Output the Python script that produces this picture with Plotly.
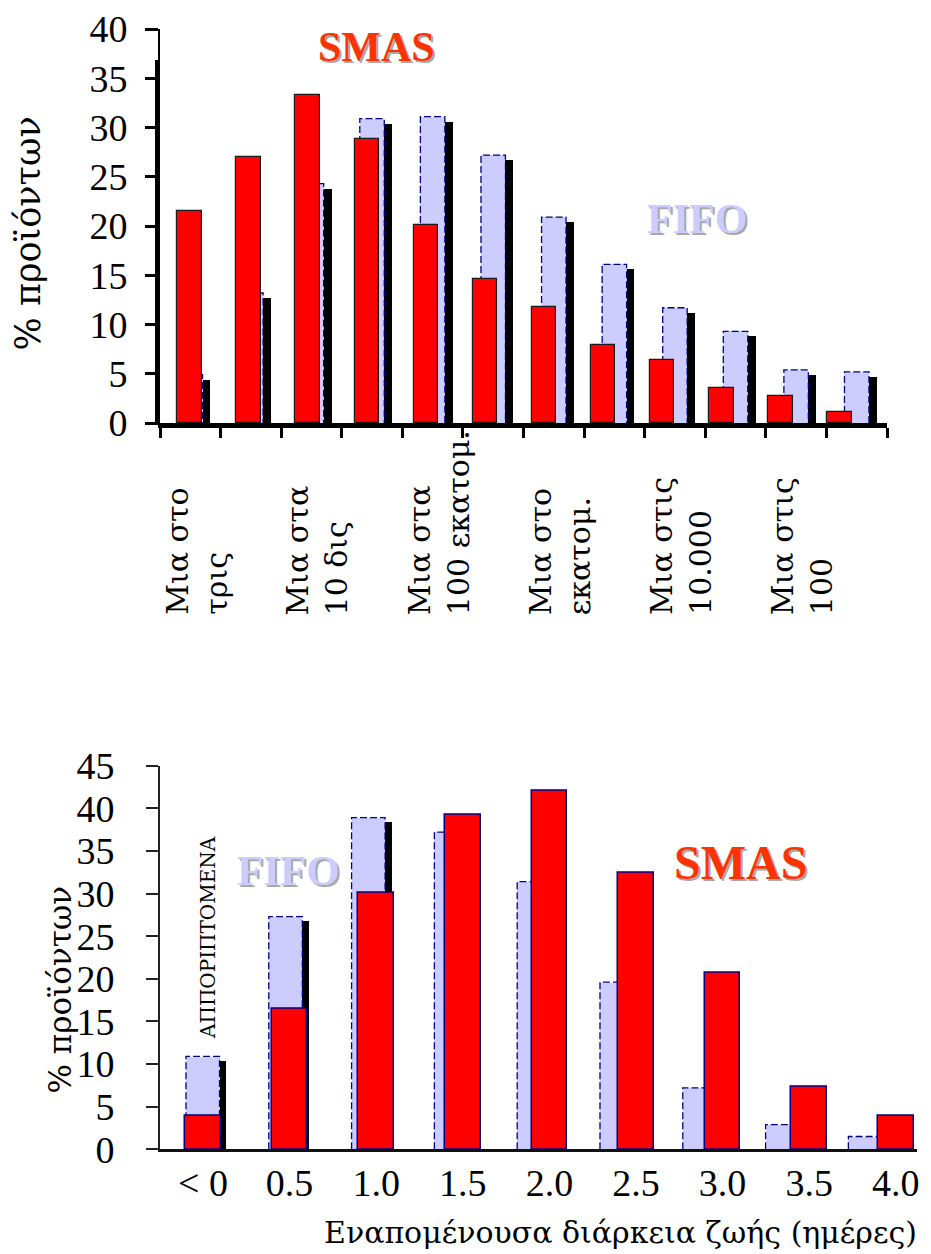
import plotly.graph_objects as go

# ---------------- data ----------------
top_labels = ["Μια στο<br>τρις", "Μια στα<br>10 δις", "Μια στα<br>100 εκατομ.",
              "Μια στο<br>εκατομ.", "Μια στις<br>10.000", "Μια στις<br>100"]
top_fifo = [4.9, 13.2, 24.3, 30.9, 31.1, 27.2, 20.9, 16.1, 11.7, 9.3, 5.4, 5.2]
top_smas = [21.5, 27.0, 33.3, 28.8, 20.1, 14.6, 11.8, 7.9, 6.4, 3.6, 2.7, 1.1]

bottom_categories = ["< 0", "0.5", "1.0", "1.5", "2.0", "2.5", "3.0", "3.5", "4.0"]
bottom_fifo = [10.9, 27.3, 38.9, 37.2, 31.4, 19.6, 7.2, 2.9, 1.5]
bottom_smas = [4.0, 16.5, 30.1, 39.3, 42.1, 32.5, 20.7, 7.4, 4.0]

y_title = "% προϊόντων"
x_title_bottom = "Εναπομένουσα διάρκεια ζωής (ημέρες)"
discard_label = "ΑΠΠΟΡΙΠΤΟΜΕΝΑ"

# ---------------- styling / geometry ----------------
PAGE_W, PAGE_H = 931, 1254
OFF = 8                      # default body margin of the html page
W, H = PAGE_W - OFF, PAGE_H - OFF
SERIF = "Liberation Serif, Times New Roman, serif"
GREEK = "DejaVu Serif, serif"
LAV = "#CCCCFF"
NAVY = "#000080"
RED = "#FF0000"
SMAS_TXT = "#FF3300"


def fx(px):
    return (px - OFF) / W


def fy(py):
    return 1 - (py - OFF) / H


fig = go.Figure()


def outline(vals, width):
    xs, ys = [], []
    for i, v in enumerate(vals):
        l, r = i - width / 2, i + width / 2
        xs += [l, l, r, r, None]
        ys += [0, v, v, 0, None]
    return xs, ys


# ---------- top chart ----------
n_top = len(top_fifo)
idx_top = list(range(n_top))
w_fifo_t = 0.404
fig.add_bar(x=idx_top, y=[v - 0.5 for v in top_fifo], width=w_fifo_t, offset=-w_fifo_t / 2 + 0.13,
            marker=dict(color="black", line=dict(width=0)), xaxis="x", yaxis="y", hoverinfo="skip")
fig.add_bar(x=idx_top, y=top_fifo, width=w_fifo_t, offset=-w_fifo_t / 2,
            marker=dict(color=LAV, line=dict(width=0)), xaxis="x", yaxis="y", name="FIFO")
ox, oy = outline(top_fifo, w_fifo_t)
fig.add_scatter(x=ox, y=oy, mode="lines", line=dict(color=NAVY, width=1.3, dash="7px,3px"),
                xaxis="x", yaxis="y", hoverinfo="skip")
w_smas_t = 0.415
fig.add_bar(x=idx_top, y=top_smas, width=w_smas_t, offset=-w_smas_t / 2,
            marker=dict(color=RED, line=dict(color="#1a1a1a", width=1.2)),
            xaxis="x2", yaxis="y2", name="SMAS")

# ---------- bottom chart ----------
n_bot = len(bottom_fifo)
idx_bot = list(range(n_bot))
w_fifo_b = 0.405
fig.add_bar(x=idx_bot, y=[v - 0.47 for v in bottom_fifo], width=w_fifo_b, offset=-w_fifo_b / 2 + 0.08,
            marker=dict(color="black", line=dict(width=0)), xaxis="x3", yaxis="y3", hoverinfo="skip")
fig.add_bar(x=idx_bot, y=bottom_fifo, width=w_fifo_b, offset=-w_fifo_b / 2,
            marker=dict(color=LAV, line=dict(width=0)), xaxis="x3", yaxis="y3", name="FIFO")
ox, oy = outline(bottom_fifo, w_fifo_b)
fig.add_scatter(x=ox, y=oy, mode="lines", line=dict(color=NAVY, width=1.3, dash="7px,3px"),
                xaxis="x3", yaxis="y3", hoverinfo="skip")
w_smas_b = 0.41
fig.add_bar(x=idx_bot, y=bottom_smas, width=w_smas_b, offset=-w_smas_b / 2,
            marker=dict(color=RED, line=dict(color=NAVY, width=1.5)),
            xaxis="x4", yaxis="y4", name="SMAS")

# ---------- axes ----------
tickfont = dict(family=SERIF, size=38, color="black")
common = dict(showgrid=False, zeroline=False, automargin=False, fixedrange=True)

t_x0, t_x1 = 160, 887
t_zero, t_top = 423, 29
t_top2 = 60
t_unit = (t_zero - t_top) / 40.0

b_x0, b_x1 = 160, 917
b_zero, b_top = 1149.3, 765.7
b_top2 = 800.7

fig.update_layout(
    xaxis=dict(domain=[fx(t_x0), fx(t_x1)], range=[-0.5, n_top - 0.5], anchor="y",
               showline=True, linewidth=5, linecolor="black",
               ticks="outside", ticklen=10, tickwidth=3, tickcolor="black",
               tickmode="linear", tick0=-0.5, dtick=1, showticklabels=False, **common),
    yaxis=dict(domain=[fy(t_zero), fy(t_top)], range=[0, 40], anchor="x",
               showline=True, linewidth=2, linecolor="black",
               ticks="outside", ticklen=13, tickwidth=3, tickcolor="black",
               tickmode="linear", tick0=0, dtick=5, tickfont=tickfont, ticklabelstandoff=10, **common),
    xaxis2=dict(domain=[fx(t_x0), fx(t_x1)],
                range=[-(189.5 - t_x0) / 59.09, (t_x1 - 189.5) / 59.09],
                anchor="y2", visible=False, **common),
    yaxis2=dict(domain=[fy(t_zero), fy(t_top2)], range=[0, (t_zero - t_top2) / t_unit], anchor="x2",
                showline=True, linewidth=5, linecolor="black", ticks="", showticklabels=False, **common),
    xaxis3=dict(domain=[fx(b_x0), fx(b_x1)],
                range=[-(202.75 - b_x0) / 82.8, (b_x1 - 202.75) / 82.8], anchor="y3",
                showline=True, linewidth=3, linecolor="#111111", ticks="", showticklabels=False, **common),
    yaxis3=dict(domain=[fy(b_zero), fy(b_top)], range=[0, 45], anchor="x3",
                showline=True, linewidth=2, linecolor="#222222",
                ticks="outside", ticklen=12, tickwidth=2, tickcolor="#222222",
                tickmode="linear", tick0=0, dtick=5, tickfont=tickfont, ticklabelstandoff=24, **common),
    xaxis4=dict(domain=[fx(b_x0), fx(b_x1)],
                range=[-(203 - b_x0) / 86.6, (b_x1 - 203) / 86.6], anchor="y4",
                showline=False, ticks="", tickmode="array", tickvals=idx_bot, ticktext=bottom_categories,
                tickfont=tickfont, ticklabelstandoff=8, **common),
    yaxis4=dict(domain=[fy(b_zero), fy(b_top)], range=[0, 45], anchor="x4",
                visible=False, **common),
    xaxis5=dict(domain=[fx(b_x0 + 3.5), fx(b_x1)], range=[0, 1], anchor="y5", visible=False, **common),
    yaxis5=dict(domain=[fy(b_zero), fy(b_top2)], range=[0, 1], anchor="x5",
                showline=True, linewidth=2.5, linecolor="#444444", ticks="", showticklabels=False, **common),
)

# ---------- annotations ----------
ann = []


def shadow_text(text, cx, cy, size, color):
    ann.append(dict(text="<b>%s</b>" % text, x=fx(cx), y=fy(cy), xref="paper", yref="paper",
                    xshift=2, yshift=-2, showarrow=False, xanchor="center", yanchor="middle",
                    font=dict(family=SERIF, size=size, color="#A8A8A8")))
    ann.append(dict(text="<b>%s</b>" % text, x=fx(cx), y=fy(cy), xref="paper", yref="paper",
                    showarrow=False, xanchor="center", yanchor="middle",
                    font=dict(family=SERIF, size=size, color=color)))


shadow_text("SMAS", 376, 47, 42, SMAS_TXT)
shadow_text("FIFO", 697, 219, 42, LAV)
shadow_text("FIFO", 288, 870, 43, LAV)
shadow_text("SMAS", 740, 862, 48, SMAS_TXT)

# category labels of the top chart (every second category)
for k, lab in enumerate(top_labels):
    ann.append(dict(text=lab, x=2 * k, y=fy(617), xref="x", yref="paper", xshift=6,
                    textangle=-90, align="left", xanchor="center", yanchor="bottom",
                    showarrow=False, font=dict(family=GREEK, size=30, color="black")))

ann.append(dict(text=y_title, x=fx(27.5), y=fy(234), xref="paper", yref="paper", textangle=-90,
                showarrow=False, xanchor="center", yanchor="middle",
                font=dict(family=GREEK, size=35, color="black")))
ann.append(dict(text=y_title, x=fx(59.5), y=fy(990), xref="paper", yref="paper", textangle=-90,
                showarrow=False, xanchor="center", yanchor="middle",
                font=dict(family=GREEK, size=31, color="black")))
ann.append(dict(text=discard_label, x=fx(208), y=fy(938), xref="paper", yref="paper", textangle=-90,
                showarrow=False, xanchor="center", yanchor="middle",
                font=dict(family=GREEK, size=20, color="black")))
ann.append(dict(text=x_title_bottom, x=fx(620), y=fy(1232), xref="paper", yref="paper",
                showarrow=False, xanchor="center", yanchor="middle",
                font=dict(family=GREEK, size=30, color="black")))

fig.update_layout(
    width=W, height=H, margin=dict(l=0, r=0, t=0, b=0),
    paper_bgcolor="white", plot_bgcolor="rgba(0,0,0,0)",
    barmode="overlay", bargap=0, showlegend=False,
    annotations=ann, font=dict(family=SERIF),
)

fig.write_html("out.html")
